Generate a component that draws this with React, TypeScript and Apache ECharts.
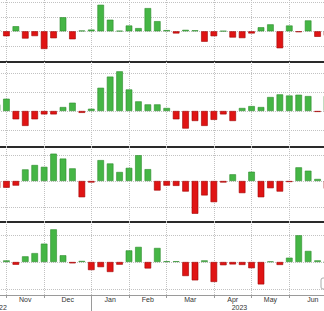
import React, { useEffect, useRef } from "react";
import * as echarts from "echarts";

// Weekly observations (Fridays)
const WEEKS = [
  "2022-10-28", "2022-11-04", "2022-11-11", "2022-11-18", "2022-11-25",
  "2022-12-02", "2022-12-09", "2022-12-16", "2022-12-23", "2022-12-30",
  "2023-01-06", "2023-01-13", "2023-01-20", "2023-01-27",
  "2023-02-03", "2023-02-10", "2023-02-17", "2023-02-24",
  "2023-03-03", "2023-03-10", "2023-03-17", "2023-03-24", "2023-03-31",
  "2023-04-07", "2023-04-14", "2023-04-21", "2023-04-28",
  "2023-05-05", "2023-05-12", "2023-05-19", "2023-05-26",
  "2023-06-02", "2023-06-09", "2023-06-16", "2023-06-23", "2023-06-30",
];

const PANEL_1 = [
  0.1, -0.34, 0.35, -0.5, -0.33, -1.22, -0.48, 0.97, -0.55, 0.05,
  0.12, 1.83, 0.8, 0.03, 0.4, 0.22, 1.6, 0.7, 0.08, -0.15,
  0.1, 0.07, -0.72, -0.34, 0.02, -0.43, -0.47, -0.15, 0.28, 0.48,
  -1.17, 0.4, -0.06, 0.75, -0.38, -0.3,
];
const PANEL_2 = [
  0.35, 0.65, -0.44, -0.79, -0.44, -0.18, -0.18, 0.21, 0.44, -0.1,
  0.12, 1.23, 1.82, 2.1, 1.14, 0.51, 0.35, 0.35, 0.16, -0.44,
  -0.93, -0.53, -0.79, -0.47, -0.18, -0.53, 0.16, 0.26, 0.21, 0.74,
  0.88, 0.82, 0.86, 0.79, -0.05, 0.8,
];
const PANEL_3 = [
  -0.28, -0.26, -0.18, 0.45, 0.62, 0.55, 1.06, 0.87, 0.49, -0.63,
  -0.06, 0.81, 0.68, 0.35, 0.51, 1.0, 0.46, -0.37, -0.18, -0.19,
  -0.41, -1.27, -0.56, -0.82, -0.06, 0.26, -0.47, 0.36, -0.63, -0.28,
  -0.41, -0.04, 0.53, 0.4, 0.08, -0.3,
];
const PANEL_4 = [
  0.05, 0.06, -0.1, 0.21, 0.33, 0.68, 1.21, 0.25, -0.05, 0.04,
  -0.3, -0.19, -0.37, -0.1, 0.43, 0.56, -0.24, 0.52, 0.03, 0.03,
  -0.52, -0.68, 0.06, -0.74, -0.12, -0.09, -0.11, -0.23, -0.83, 0.02,
  -0.11, 0.16, 0.99, 0.41, 0.06, 0,
];

const MONTH_LABELS = ["Nov", "Dec", "Jan", "Feb", "Mar", "Apr", "May", "Jun"];
const YEAR_LABELS = ["2022", "2023"];
const GRID_LEVELS_1 = [2, 1, 0, -1];
const GRID_LEVELS_2 = [2, 1, 0, -1];
const GRID_LEVELS_3 = [1, 0, -1];
const GRID_LEVELS_4 = [1, 0, -1];

// ---- layout / styling ----
const W = 324;
const H = 311;
const GRID_LEFT = -3;
const GRID_WIDTH = 330;
const YEAR_LABEL_POS = [0, 51]; // half-week slots on the label axis
const GREEN = "#45b645";
const GREEN_EDGE = "#2d8c2d";
const RED = "#e01414";
const RED_EDGE = "#a00000";
const GRID_COLOR = "#c2c2c2";
const AXIS_COLOR = "#9a9a9a";
const FONT = "'Liberation Sans', Arial, sans-serif";

const PANELS = [
  { values: PANEL_1, levels: GRID_LEVELS_1, top: -20, height: 82, zero: 31.3, unit: 14.5, border: true },
  { values: PANEL_2, levels: GRID_LEVELS_2, top: 62, height: 85, zero: 111, unit: 18.9, border: true },
  { values: PANEL_3, levels: GRID_LEVELS_3, top: 147, height: 75, zero: 181, unit: 25.8, border: true },
  { values: PANEL_4, levels: GRID_LEVELS_4, top: 222, height: 73, zero: 262, unit: 27, border: false },
];

const monthOf = (d: string) => d.slice(0, 7);
const MONTH_STARTS = WEEKS.map((w, i) => (i > 0 && monthOf(w) !== monthOf(WEEKS[i - 1]) ? i : -1)).filter((i) => i >= 0);
const YEAR_STARTS = WEEKS.map((w, i) => (i > 0 && w.slice(0, 4) !== WEEKS[i - 1].slice(0, 4) ? i : -1)).filter((i) => i >= 0);
const isMonthStart = (i: number) => MONTH_STARTS.includes(i);

// Half-week label axis
const N_HALF = 2 * (WEEKS.length - 1) + 1;
const MONTH_AXIS: string[] = new Array(N_HALF).fill("");
MONTH_LABELS.forEach((m, j) => {
  const s = MONTH_STARTS[j];
  const e = j + 1 < MONTH_STARTS.length ? MONTH_STARTS[j + 1] : WEEKS.length;
  MONTH_AXIS[s + e] = m;
});
const YEAR_AXIS: string[] = new Array(N_HALF).fill("");
YEAR_LABELS.forEach((y, j) => {
  YEAR_AXIS[YEAR_LABEL_POS[j]] = y;
});
const YEAR_TICKS = YEAR_STARTS.map((i) => 2 * i);

export default function App() {
  const ref = useRef<HTMLDivElement>(null);
  useEffect(() => {
    if (!ref.current) return;
    const chart = echarts.init(ref.current, undefined, { renderer: "svg" });

    const grids: any[] = [];
    const xAxes: any[] = [];
    const yAxes: any[] = [];
    const series: any[] = [];

    PANELS.forEach((p, i) => {
      grids.push({
        left: GRID_LEFT,
        width: GRID_WIDTH,
        top: p.top,
        height: p.height,
        containLabel: false,
        outerBoundsMode: "none",
        show: p.border,
        borderColor: "#2a2a2a",
        borderWidth: 2,
        backgroundColor: "transparent",
      });
      const last = i === PANELS.length - 1;
      xAxes.push({
        type: "category",
        gridIndex: i,
        data: WEEKS,
        boundaryGap: false,
        position: "bottom",
        axisLine: { show: last, onZero: false, lineStyle: { color: AXIS_COLOR, width: 1 } },
        axisTick: { show: last, interval: isMonthStart, length: 3, lineStyle: { color: AXIS_COLOR } },
        axisLabel: { show: false },
        splitLine: { show: true, interval: isMonthStart, lineStyle: { color: GRID_COLOR, type: "dotted", width: 1 } },
      });
      yAxes.push({
        type: "value",
        gridIndex: i,
        show: false,
        min: -(p.top + p.height - p.zero) / p.unit,
        max: (p.zero - p.top) / p.unit,
        splitLine: { show: false },
      });
      series.push({
        type: "bar",
        xAxisIndex: i,
        yAxisIndex: i,
        barWidth: "70%",
        clip: false,
        z: 2,
        data: p.values.map((v) => ({
          value: v,
          itemStyle: {
            color: v >= 0 ? GREEN : RED,
            borderColor: v >= 0 ? GREEN_EDGE : RED_EDGE,
            borderWidth: 0.6,
          },
        })),
        markLine: {
          silent: true,
          z: 1,
          symbol: ["none", "none"],
          label: { show: false },
          lineStyle: { color: GRID_COLOR, type: "dotted", width: 1 },
          data: p.levels.map((v) => ({ yAxis: v })),
          animation: false,
        },
      });
    });

    // Month-name axis
    xAxes.push({
      type: "category",
      gridIndex: 3,
      data: MONTH_AXIS,
      boundaryGap: false,
      position: "bottom",
      axisLine: { show: false, onZero: false },
      axisTick: { show: false },
      splitLine: { show: false },
      axisLabel: { show: true, interval: 0, margin: 1, fontSize: 7, color: "#333", fontFamily: FONT },
    });
    // Year axis
    xAxes.push({
      type: "category",
      gridIndex: 3,
      data: YEAR_AXIS,
      boundaryGap: false,
      position: "bottom",
      axisLine: { show: false, onZero: false },
      axisTick: {
        show: true,
        interval: (i: number) => YEAR_TICKS.includes(i),
        length: 16,
        lineStyle: { color: AXIS_COLOR, width: 1 },
      },
      splitLine: { show: false },
      axisLabel: {
        show: true,
        interval: 0,
        margin: 8.5,
        padding: [0, 0, 0, 4],
        fontSize: 7,
        color: "#333",
        fontFamily: FONT,
      },
    });

    chart.setOption({
      animation: false,
      backgroundColor: "#ffffff",
      grid: grids,
      xAxis: xAxes,
      yAxis: yAxes,
      series,
      graphic: [
        {
          type: "rect",
          shape: { x: 321, y: 278, width: 12, height: 11, r: 2 },
          style: { fill: "#ffffff", stroke: "#aaaaaa", lineWidth: 1 },
          z: 10,
        },
      ],
    });
    return () => chart.dispose();
  }, []);

  return <div ref={ref} style={{ position: "fixed", left: 0, top: 0, width: W, height: H }} />;
}
